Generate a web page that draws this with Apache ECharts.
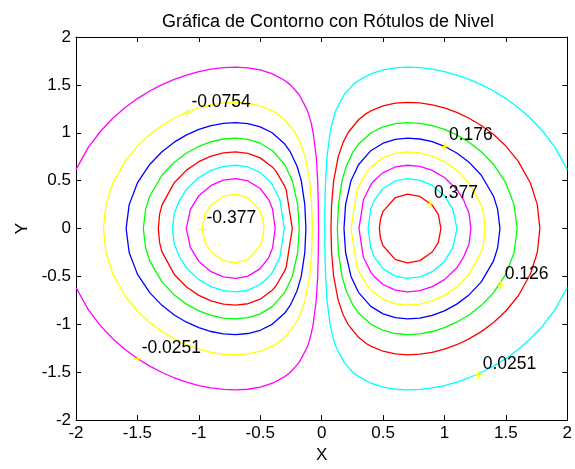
<!DOCTYPE html>
<html>
<head>
<meta charset="utf-8">
<script src="https://cdn.jsdelivr.net/npm/echarts@6/dist/echarts.min.js"></script>
<style>
  html, body { margin: 0; padding: 0; background: #fff; }
  #main { width: 575px; height: 469px; }
</style>
</head>
<body>
<div id="main"></div>
<script>
// contour levels of the right lobe (left lobe uses the same levels, negative)
var levels = [0.0251, 0.0754, 0.126, 0.176, 0.226, 0.277, 0.327, 0.377];
var posColors = ['#00ffff', '#ff0000', '#00ff00', '#0000ff', '#ffff00', '#ff00ff', '#00ffff', '#ff0000'];
var negColors = ['#ff00ff', '#ffff00', '#0000ff', '#00ff00', '#ff0000', '#00ffff', '#ff00ff', '#ffff00'];

// upper half of each positive contour [x, y]
// (the lower half and the negative lobe are mirror images)
var c0251 = [[0.025, 0], [0.027, 0.25], [0.032, 0.5], [0.044, 0.75], [0.069, 1.0], [0.085, 1.1], [0.107, 1.2], [0.122, 1.25], [0.184, 1.4], [0.254, 1.5], [0.3, 1.546], [0.4, 1.615], [0.5, 1.656], [0.6, 1.678], [0.7, 1.685], [0.8, 1.68], [0.9, 1.664], [1.0, 1.639], [1.1, 1.603], [1.2, 1.558], [1.3, 1.503], [1.4, 1.436], [1.5, 1.357], [1.6, 1.263], [1.7, 1.151], [1.8, 1.016], [1.9, 0.847], [2.0, 0.615]];
var c0754 = [[0.076, 0], [0.081, 0.25], [0.098, 0.5], [0.135, 0.75], [0.175, 0.9], [0.215, 1.0], [0.3, 1.136], [0.363, 1.2], [0.4, 1.228], [0.5, 1.281], [0.6, 1.309], [0.7, 1.318], [0.8, 1.312], [0.9, 1.292], [1.0, 1.259], [1.1, 1.213], [1.2, 1.152], [1.3, 1.076], [1.4, 0.981], [1.5, 0.861], [1.6, 0.704], [1.7, 0.475], [1.756, 0.25], [1.777, 0]];
var c126 = [[0.128, 0], [0.137, 0.25], [0.166, 0.5], [0.2, 0.65], [0.255, 0.8], [0.3, 0.882], [0.403, 1.0], [0.5, 1.062], [0.6, 1.096], [0.7, 1.107], [0.8, 1.099], [0.9, 1.075], [1.0, 1.035], [1.1, 0.978], [1.2, 0.902], [1.3, 0.802], [1.4, 0.669], [1.5, 0.476], [1.567, 0.25], [1.592, 0]];
var c176 = [[0.182, 0], [0.195, 0.25], [0.239, 0.5], [0.3, 0.666], [0.4, 0.813], [0.5, 0.891], [0.6, 0.931], [0.7, 0.944], [0.8, 0.935], [0.9, 0.907], [1.0, 0.859], [1.1, 0.789], [1.2, 0.693], [1.3, 0.557], [1.4, 0.337], [1.433, 0.2], [1.452, 0]];
var c226 = [[0.239, 0], [0.288, 0.4], [0.3, 0.44], [0.372, 0.6], [0.4, 0.641], [0.5, 0.738], [0.6, 0.785], [0.7, 0.8], [0.8, 0.79], [0.9, 0.756], [1.0, 0.698], [1.1, 0.61], [1.2, 0.479], [1.3, 0.244], [1.319, 0.15], [1.33, 0]];
var c277 = [[0.304, 0], [0.34, 0.3], [0.4, 0.455], [0.427, 0.5], [0.5, 0.584], [0.6, 0.643], [0.7, 0.661], [0.8, 0.649], [0.9, 0.607], [1.0, 0.533], [1.1, 0.411], [1.155, 0.3], [1.2, 0.161], [1.215, 0]];
var c327 = [[0.378, 0], [0.4, 0.204], [0.43, 0.3], [0.5, 0.418], [0.6, 0.497], [0.7, 0.521], [0.8, 0.505], [0.9, 0.45], [1.0, 0.343], [1.068, 0.2], [1.102, 0]];
var c377 = [[0.47, 0], [0.48, 0.105], [0.5, 0.18], [0.6, 0.324], [0.7, 0.359], [0.8, 0.335], [0.9, 0.245], [0.95, 0.147], [0.971, 0]];
var contours = [c0251, c0754, c126, c176, c226, c277, c327, c377];

// level labels: text and where the "+" sits
var labelText = ['-0.0754', '-0.377', '-0.0251', '0.176', '0.377', '0.126', '0.0251'];
var labelX = [-1.093, -0.97, -1.498, 1.004, 0.883, 1.458, 1.279];
var labelY = [1.206, -0.01, -1.36, 0.856, 0.258, -0.588, -1.526];

var FONT = 'Liberation Sans, Arial, Helvetica, sans-serif';

// lower half (mirrored, reversed) then upper half; sx = -1 flips to the left lobe
function fullCurve(half, sx) {
    var pts = [];
    for (var i = half.length - 1; i >= 0; i--) pts.push([sx * half[i][0], -half[i][1]]);
    for (var j = 0; j < half.length; j++) pts.push([sx * half[j][0], half[j][1]]);
    return pts;
}

var series = [];
for (var k = 0; k < levels.length; k++) {
    series.push({
        name: String(levels[k]), type: 'line', data: fullCurve(contours[k], 1),
        showSymbol: false, symbol: 'none', silent: true,
        lineStyle: { color: posColors[k], width: 1.3 }, z: 2
    });
    series.push({
        name: String(-levels[k]), type: 'line', data: fullCurve(contours[k], -1),
        showSymbol: false, symbol: 'none', silent: true,
        lineStyle: { color: negColors[k], width: 1.3 }, z: 2
    });
}

var labelData = [];
for (var m = 0; m < labelText.length; m++) labelData.push([labelX[m], labelY[m]]);

series.push({
    type: 'custom', data: labelData, z: 5, silent: true,
    renderItem: function (params, api) {
        var p = api.coord([api.value(0), api.value(1)]);
        return {
            type: 'group',
            children: [
                { type: 'line', shape: { x1: p[0] - 4, y1: p[1], x2: p[0] + 4, y2: p[1] }, style: { stroke: '#ffff00', lineWidth: 1.2 } },
                { type: 'line', shape: { x1: p[0], y1: p[1] - 4, x2: p[0], y2: p[1] + 4 }, style: { stroke: '#ffff00', lineWidth: 1.2 } },
                { type: 'text', style: { x: p[0] + 4, y: p[1] - 11, text: labelText[params.dataIndex], fill: '#000', fontSize: 17.5, fontFamily: FONT, align: 'left', verticalAlign: 'middle' } }
            ]
        };
    }
});

function fmt(v) { return String(v); }

var axisCommon = {
    type: 'value', min: -2, max: 2, interval: 0.5,
    splitLine: { show: false },
    axisLine: { show: true, onZero: false, lineStyle: { color: '#000', width: 1 } },
    axisTick: { show: true, inside: true, length: 5, lineStyle: { color: '#000' } }
};

var myChart = echarts.init(document.getElementById('main'));

var option = {
    backgroundColor: '#fff',
    animation: false,
    title: {
        text: 'Gráfica de Contorno con Rótulos de Nivel',
        left: 323, top: 8, textAlign: 'center',
        textStyle: { fontSize: 18, fontWeight: 'normal', color: '#000', fontFamily: FONT }
    },
    grid: { left: 76, top: 37, right: 5, bottom: 44, containLabel: false },
    xAxis: [
        Object.assign({}, axisCommon, {
            position: 'bottom', name: 'X', nameLocation: 'middle', nameGap: 25,
            nameTextStyle: { fontSize: 17, color: '#000', fontFamily: FONT },
            axisLabel: { color: '#000', fontSize: 17, fontFamily: FONT, margin: 5, formatter: fmt }
        }),
        Object.assign({}, axisCommon, { position: 'top', axisLabel: { show: false } })
    ],
    yAxis: [
        Object.assign({}, axisCommon, {
            position: 'left', name: 'Y', nameLocation: 'middle', nameGap: 34, nameRotate: 90,
            nameTextStyle: { fontSize: 17, color: '#000', fontFamily: FONT },
            axisLabel: { color: '#000', fontSize: 17, fontFamily: FONT, margin: 5, formatter: fmt }
        }),
        Object.assign({}, axisCommon, { position: 'right', axisLabel: { show: false } })
    ],
    series: series
};

myChart.setOption(option);
</script>
</body>
</html>
